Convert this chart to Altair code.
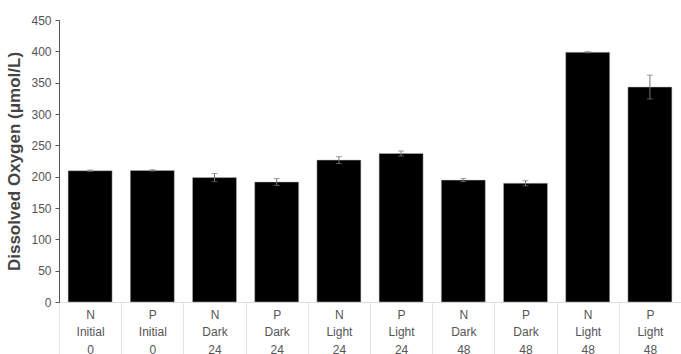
import altair as alt
import pandas as pd

groups = ["N", "P", "N", "P", "N", "P", "N", "P", "N", "P"]
treatments = ["Initial", "Initial", "Dark", "Dark", "Light", "Light", "Dark", "Dark", "Light", "Light"]
hours = ["0", "0", "24", "24", "24", "24", "48", "48", "48", "48"]
means = [209.5, 210, 198.5, 191.5, 226.5, 237, 194.5, 189.5, 398.5, 343]
errors = [1, 1, 6.5, 5.5, 5.5, 4, 2.5, 4, 1, 19]
y_ticks = [0, 50, 100, 150, 200, 250, 300, 350, 400, 450]

keys = [f"{g}|{t}|{h}|{i}" for i, (g, t, h) in enumerate(zip(groups, treatments, hours))]
df = pd.DataFrame({
    "key": keys,
    "mean": means,
    "lo": [m - e for m, e in zip(means, errors)],
    "hi": [m + e for m, e in zip(means, errors)],
})

FONT = "Liberation Sans"

x = alt.X(
    "key:N",
    sort=None,
    scale=alt.Scale(paddingInner=0, paddingOuter=0),
    axis=alt.Axis(
        title=None,
        labelAngle=0,
        labelExpr="isString(datum.value) ? slice(split(datum.value, '|'), 0, 3) : ''",
        labelFont=FONT,
        labelFontSize=12,
        labelColor="#555555",
        labelLineHeight=17.5,
        labelBaseline="top",
        labelPadding=-45,
        labelOverlap=False,
        tickBand="extent",
        tickSize=52,
        tickColor="#e2e2e2",
        tickWidth=1,
        domainColor="#dddddd",
        domainWidth=1,
        grid=False,
    ),
)

y = alt.Y(
    "mean:Q",
    scale=alt.Scale(domain=[0, 450], nice=False),
    axis=alt.Axis(
        title="Dissolved Oxygen (μmol/L)",
        titleFont=FONT,
        titleFontSize=17,
        titleFontWeight="bold",
        titleColor="#444444",
        titlePadding=7,
        values=y_ticks,
        tickCount=10,
        labelOverlap=False,
        labelFont=FONT,
        labelFontSize=12,
        labelColor="#555555",
        labelPadding=4,
        tickSize=4,
        tickColor="#555555",
        domainColor="#555555",
        grid=False,
    ),
)

bars = alt.Chart(df).mark_bar(size=44, color="black", stroke="#bbbbbb", strokeWidth=0.5).encode(x=x, y=y)

err = alt.Chart(df).mark_rule(color="#777777", strokeWidth=1).encode(
    x=alt.X("key:N", sort=None), y=alt.Y("lo:Q"), y2="hi:Q"
)
caps_hi = alt.Chart(df).mark_tick(color="#777777", size=6, thickness=1, orient="horizontal").encode(
    x=alt.X("key:N", sort=None), y=alt.Y("hi:Q")
)
caps_lo = alt.Chart(df).mark_tick(color="#777777", size=6, thickness=1, orient="horizontal").encode(
    x=alt.X("key:N", sort=None), y=alt.Y("lo:Q")
)

chart = (
    alt.layer(bars, err, caps_hi, caps_lo)
    .properties(
        width=622,
        height=282,
        padding={"left": 59, "top": 20, "right": 0, "bottom": 52},
        autosize=alt.AutoSizeParams(type="none"),
        background="white",
    )
    .configure_view(stroke=None)
)

chart.save("out.html", embed_options={"renderer": "svg", "actions": False})
